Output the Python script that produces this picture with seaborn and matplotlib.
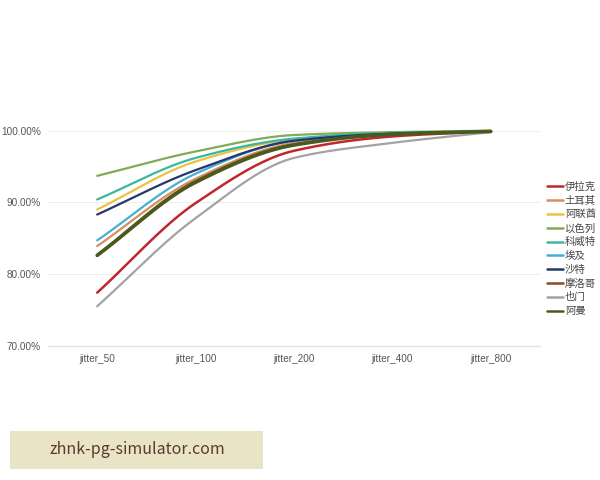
import numpy as np
import pandas as pd
import matplotlib
matplotlib.use("Agg")
import matplotlib.pyplot as plt
import seaborn as sns
from matplotlib.lines import Line2D
from matplotlib.patches import Rectangle

categories = ["jitter_50", "jitter_100", "jitter_200", "jitter_400", "jitter_800"]
countries = ["伊拉克", "土耳其", "阿联酋", "以色列", "科威特", "埃及", "沙特", "摩洛哥", "也门", "阿曼"]

iraq    = [77.4, 89.9, 97.2, 99.2, 99.9]
turkey  = [83.9, 93.3, 98.3, 99.6, 99.9]
uae     = [89.0, 95.7, 98.8, 99.7, 99.9]
israel  = [93.7, 97.1, 99.4, 99.8, 100.0]
kuwait  = [90.4, 96.2, 98.9, 99.7, 99.9]
egypt   = [84.7, 94.0, 98.6, 99.6, 99.9]
saudi   = [88.3, 94.5, 98.6, 99.6, 99.9]
morocco = [82.7, 93.0, 98.1, 99.5, 99.9]
yemen   = [75.5, 87.8, 96.2, 98.3, 99.8]
oman    = [82.6, 92.8, 98.0, 99.5, 99.9]

series = [iraq, turkey, uae, israel, kuwait, egypt, saudi, morocco, yemen, oman]
colors = ["#c0272d", "#d49060", "#e8c440", "#7fac55", "#3cb6a0",
          "#45b0d6", "#25376b", "#8a4a28", "#a3a3a3", "#4a5a1e"]
widths = [1.8, 1.6, 1.6, 1.6, 1.6, 1.6, 1.6, 1.6, 1.6, 2.6]


def smooth_curve(xs, ys, n=40):
    # monotone cubic Hermite rendering of a line through the given points
    xs = np.asarray(xs, float); ys = np.asarray(ys, float)
    h = np.diff(xs); d = np.diff(ys) / h
    m = np.zeros_like(ys)
    m[0], m[-1] = d[0], d[-1]
    for i in range(1, len(ys) - 1):
        if d[i - 1] * d[i] <= 0:
            m[i] = 0
        else:
            m[i] = 2 / (1 / d[i - 1] + 1 / d[i])
    px, py = [], []
    for i in range(len(xs) - 1):
        t = np.linspace(0, 1, n, endpoint=(i == len(xs) - 2))
        h00 = 2*t**3 - 3*t**2 + 1; h10 = t**3 - 2*t**2 + t
        h01 = -2*t**3 + 3*t**2; h11 = t**3 - t**2
        px.append(xs[i] + t * h[i])
        py.append(h00*ys[i] + h10*h[i]*m[i] + h01*ys[i+1] + h11*h[i]*m[i+1])
    return np.concatenate(px), np.concatenate(py)


sns.set_theme(style="white")
plt.rcParams["font.family"] = ["Noto Sans CJK SC", "DejaVu Sans"]

fig = plt.figure(figsize=(6, 4.8), dpi=100)
ax = fig.add_axes([0.08, 0.2798, 0.82, 0.4479])

xpos = np.arange(len(categories))
for name, vals, c, lw in zip(countries, series, colors, widths):
    sx, sy = smooth_curve(xpos, vals)
    df = pd.DataFrame({"x": sx, "y": sy})
    sns.lineplot(data=df, x="x", y="y", ax=ax, color=c, linewidth=lw,
                 sort=False, estimator=None, clip_on=False)

latin = ["Liberation Sans", "DejaVu Sans"]
ax.set_xlim(-0.5, len(categories) - 0.5)
ax.set_ylim(70, 100)
ax.set_xticks(xpos)
ax.set_xticklabels(categories, fontsize=7.2, color="#555555", family=latin)
ax.set_yticks([70, 80, 90, 100])
ax.set_yticklabels([f"{v:.2f}%" for v in [70, 80, 90, 100]], fontsize=7.2,
                   color="#555555", family=latin)
ax.tick_params(axis="y", length=0, pad=5)
ax.tick_params(axis="x", length=0, pad=6)
ax.set_xlabel(""); ax.set_ylabel("")
for y in [80, 90, 100]:
    ax.axhline(y, color="#eeeeee", linewidth=0.8, zorder=0)
for s in ["top", "right", "left"]:
    ax.spines[s].set_visible(False)
ax.spines["bottom"].set_color("#e4e4e4")
ax.spines["bottom"].set_linewidth(1.0)

handles = [Line2D([0], [0], color=c, lw=1.8) for c in colors]
leg = fig.legend(handles, countries, loc="upper left", bbox_to_anchor=(0.905, 0.63),
                 frameon=False, fontsize=7.5, handlelength=1.5, handletextpad=0.2,
                 labelspacing=0.36, borderaxespad=0)
for t in leg.get_texts():
    t.set_color("#444444")

fig.patches.append(Rectangle((10 / 600, 1 - 469 / 480), 253 / 600, 38 / 480,
                             transform=fig.transFigure, facecolor="#e9e4c6",
                             edgecolor="none", zorder=0))
fig.text(137 / 600, 1 - 450 / 480, "zhnk-pg-simulator.com", fontsize=11.5,
         color="#5a3a32", ha="center", va="center")

fig.savefig("out.png", dpi=100)
